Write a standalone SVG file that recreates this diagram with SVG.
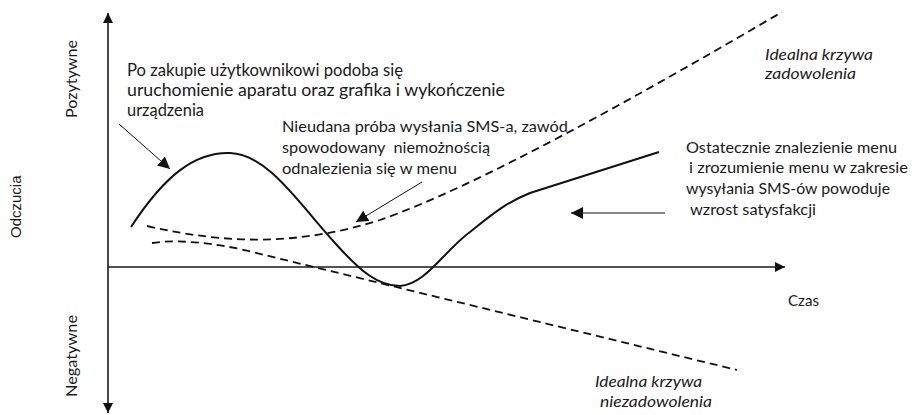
<svg xmlns="http://www.w3.org/2000/svg" width="917" height="415" viewBox="0 0 917 415">
  <style>
    .t { font-family: Lato, "Open Sans", "Liberation Sans", sans-serif; font-size: 16px; fill: #1a1a1a; }
    .big { font-size: 16.5px; }
    .i { font-style: italic; }
    .arial { font-family: "Liberation Sans", Arial, sans-serif; font-size: 15px; fill: #1a1a1a; }
    .axis { stroke: #1a1a1a; stroke-width: 1.6; fill: none; }
    .solid { stroke: #111; stroke-width: 2; fill: none; }
    .dash { stroke: #111; stroke-width: 1.8; fill: none; stroke-dasharray: 8 5; }
    .ptr { stroke: #111; stroke-width: 1; fill: none; }
  </style>
  <defs>
    <marker id="head" viewBox="0 0 10 10" refX="10" refY="5" markerWidth="10" markerHeight="10" markerUnits="userSpaceOnUse" orient="auto">
      <path d="M0,0 L10,5 L0,10 Z" fill="#111"/>
    </marker>
    <marker id="headS" viewBox="0 0 10 10" refX="10" refY="5" markerWidth="12" markerHeight="12" markerUnits="userSpaceOnUse" orient="auto">
      <path d="M0,0 L10,5 L0,10 Z" fill="#111"/>
    </marker>
  </defs>

  <!-- axes -->
  <g id="axes">
    <line class="axis" x1="108" y1="267" x2="108" y2="13" marker-end="url(#head)"/>
    <line class="axis" x1="108" y1="267" x2="108" y2="413" marker-end="url(#head)"/>
    <line class="axis" x1="108" y1="267" x2="785" y2="267" marker-end="url(#head)"/>
  </g>

  <!-- axis labels -->
  <g id="axis-labels">
    <text class="t" transform="translate(77,118) rotate(-90)" textLength="78" lengthAdjust="spacingAndGlyphs">Pozytywne</text>
    <text class="t" transform="translate(77,397) rotate(-90)" textLength="82" lengthAdjust="spacingAndGlyphs">Negatywne</text>
    <text class="arial" transform="translate(21,238) rotate(-90)">Odczucia</text>
    <text class="t" x="788" y="306" textLength="31" lengthAdjust="spacingAndGlyphs">Czas</text>
  </g>

  <!-- curves -->
  <g id="curves">
    <path id="ideal-satisfaction" class="dash" d="M147,226 C230,245 300,245 380,220 C480,185 640,95 782,12"/>
    <path id="ideal-dissatisfaction" class="dash" d="M152,243 C172,240 200,241 240,249 L737,370"/>
    <path id="user-experience" class="solid" d="M131,227 C165,175 195,152 230,153 C268,154 300,205 335,243 C360,271 378,286 400,286 C425,285 445,250 470,232 C490,216 505,203 530,193 L659,152"/>
  </g>

  <!-- annotation pointers -->
  <g id="connectors">
    <line class="ptr" x1="119" y1="124" x2="170" y2="169" marker-end="url(#headS)"/>
    <line class="ptr" x1="422" y1="182" x2="356" y2="222" marker-end="url(#headS)"/>
    <line class="ptr" x1="665" y1="213" x2="571" y2="213" marker-end="url(#headS)"/>
  </g>

  <g id="note-purchase">
    <text class="t big" x="127" y="76" textLength="276" lengthAdjust="spacingAndGlyphs">Po zakupie użytkownikowi podoba się</text>
    <text class="t big" x="127" y="96" textLength="378" lengthAdjust="spacingAndGlyphs">uruchomienie aparatu oraz grafika i wykończenie</text>
    <text class="t big" x="127" y="116" textLength="77" lengthAdjust="spacingAndGlyphs">urządzenia</text>
  </g>

  <g id="note-failure">
    <text class="t" x="282" y="132" textLength="286" lengthAdjust="spacingAndGlyphs">Nieudana próba wysłania SMS-a, zawód</text>
    <text class="t" x="282" y="153" textLength="208" lengthAdjust="spacingAndGlyphs" xml:space="preserve">spowodowany  niemożnością</text>
    <text class="t" x="282" y="174" textLength="175" lengthAdjust="spacingAndGlyphs">odnalezienia się w menu</text>
  </g>

  <g id="note-success">
    <text class="t" x="686" y="153" textLength="211" lengthAdjust="spacingAndGlyphs">Ostatecznie znalezienie menu</text>
    <text class="t" x="689" y="173" textLength="219" lengthAdjust="spacingAndGlyphs">i zrozumienie menu w zakresie</text>
    <text class="t" x="686" y="194" textLength="204" lengthAdjust="spacingAndGlyphs">wysyłania SMS-ów powoduje</text>
    <text class="t" x="690" y="215" textLength="126" lengthAdjust="spacingAndGlyphs">wzrost satysfakcji</text>
  </g>

  <g id="label-ideal-satisfaction">
    <text class="t i" x="765" y="60" textLength="108" lengthAdjust="spacingAndGlyphs">Idealna krzywa</text>
    <text class="t i" x="765" y="79" textLength="91" lengthAdjust="spacingAndGlyphs">zadowolenia</text>
  </g>

  <g id="label-ideal-dissatisfaction">
    <text class="t i" x="595" y="387" textLength="107" lengthAdjust="spacingAndGlyphs">Idealna krzywa</text>
    <text class="t i" x="600" y="407" textLength="112" lengthAdjust="spacingAndGlyphs">niezadowolenia</text>
  </g>
</svg>
